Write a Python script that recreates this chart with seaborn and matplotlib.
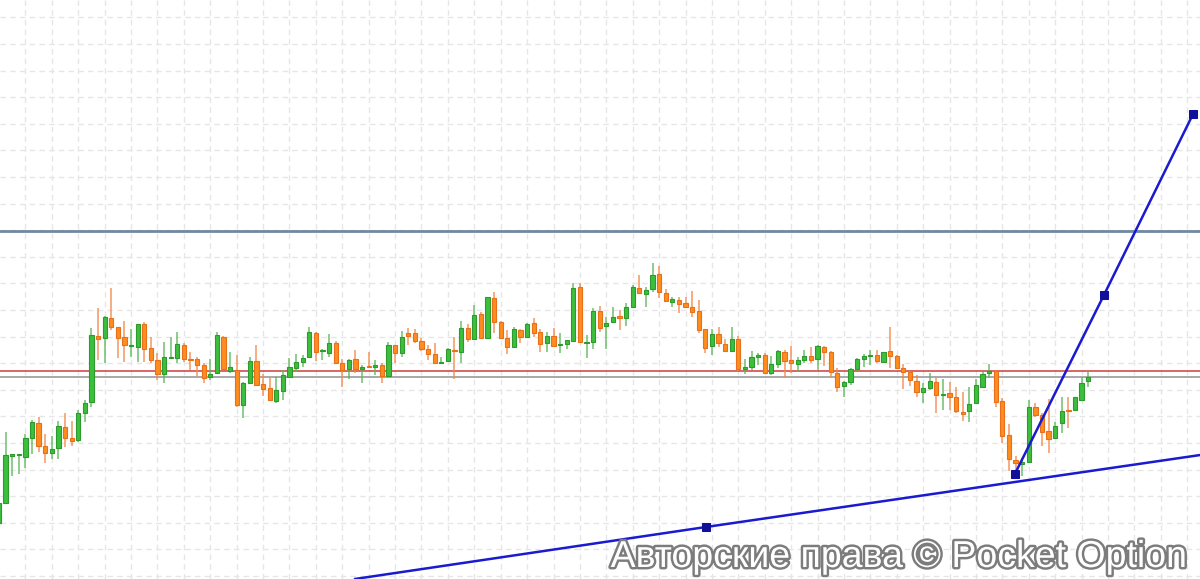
import numpy as np
import pandas as pd
import seaborn as sns
import matplotlib
matplotlib.use("Agg")
import matplotlib.pyplot as plt
import matplotlib.patheffects as pe

# candle data (price in chart points)
opens = [77, 97, 144, 145, 143, 162, 177, 154, 147, 152, 173, 162, 160, 187, 198, 264, 262, 282, 273, 263,
         254, 253, 276, 252, 240, 226, 242, 242, 255, 241, 241, 235, 223, 227, 263, 229, 230, 195, 217, 239,
         216, 212, 199, 209, 223, 232, 238, 243, 267, 249, 247, 257, 237, 231, 241, 231, 234, 233, 235, 224,
         255, 247, 267, 267, 259, 251, 246, 237, 239, 250, 248, 272, 261, 286, 262, 302, 278, 262, 253, 270,
         263, 277, 268, 257, 264, 255, 256, 259, 313, 257, 258, 289, 274, 278, 284, 282, 293, 312, 306, 311,
         326, 307, 298, 300, 297, 293, 289, 271, 254, 266, 256, 249, 261, 231, 233, 243, 245, 227, 236, 248,
         240, 236, 240, 244, 241, 253, 248, 227, 214, 218, 231, 241, 244, 245, 238, 249, 244, 232, 228, 219,
         208, 212, 218, 205, 207, 203, 188, 189, 197, 213, 227, 229, 199, 165, 140, 136, 138, 193, 185, 169,
         162, 177, 190, 190, 200, 219]
closes = [97, 145, 146, 146, 162, 178, 154, 147, 151, 174, 162, 159, 187, 197, 265, 261, 283, 273, 262, 255,
          255, 276, 251, 240, 226, 243, 243, 256, 241, 240, 235, 222, 226, 265, 231, 233, 195, 217, 239, 215,
          211, 200, 210, 225, 233, 238, 242, 268, 248, 249, 257, 237, 230, 240, 231, 233, 233, 235, 224, 255,
          247, 263, 264, 259, 251, 246, 237, 238, 251, 249, 272, 261, 285, 262, 303, 278, 262, 253, 271, 263,
          276, 267, 256, 264, 254, 256, 260, 312, 258, 258, 289, 272, 277, 283, 282, 293, 313, 307, 310, 325,
          308, 299, 301, 296, 293, 288, 270, 252, 266, 257, 249, 261, 231, 233, 243, 245, 227, 236, 249, 239,
          237, 240, 244, 240, 254, 248, 228, 213, 218, 231, 241, 244, 245, 239, 248, 244, 232, 228, 220, 208,
          212, 219, 205, 206, 203, 189, 186, 196, 215, 226, 229, 198, 164, 141, 137, 138, 193, 185, 168, 161,
          174, 189, 189, 203, 217, 223]
highs = [100, 168, 146, 146, 166, 180, 183, 166, 164, 179, 187, 179, 190, 200, 272, 292, 284, 312, 273, 279,
         271, 276, 278, 263, 247, 258, 263, 268, 257, 248, 243, 237, 241, 268, 264, 248, 245, 218, 243, 255,
         226, 222, 223, 230, 242, 246, 245, 273, 268, 251, 266, 259, 241, 241, 250, 235, 248, 240, 237, 258,
         255, 269, 272, 271, 262, 255, 257, 243, 252, 263, 279, 276, 295, 288, 303, 308, 279, 270, 273, 271,
         277, 282, 271, 268, 272, 267, 260, 317, 317, 265, 292, 294, 283, 293, 290, 297, 315, 325, 313, 337,
         334, 311, 303, 303, 303, 309, 300, 271, 271, 273, 261, 273, 264, 241, 249, 247, 247, 244, 250, 250,
         254, 243, 250, 253, 255, 254, 249, 232, 219, 232, 242, 246, 250, 250, 248, 273, 245, 236, 229, 225,
         217, 227, 222, 221, 218, 213, 208, 213, 221, 228, 236, 230, 202, 176, 144, 142, 200, 197, 187, 201,
         178, 203, 203, 203, 223, 229]
lows = [75, 97, 124, 126, 132, 146, 148, 137, 141, 141, 153, 154, 158, 178, 193, 240, 237, 270, 242, 238,
        243, 238, 238, 237, 220, 217, 241, 237, 238, 230, 224, 217, 220, 226, 230, 227, 193, 182, 216, 214,
        204, 199, 197, 200, 222, 228, 233, 242, 239, 240, 243, 236, 213, 221, 227, 217, 233, 225, 217, 223,
        237, 243, 255, 257, 249, 240, 236, 236, 239, 221, 237, 258, 261, 261, 261, 267, 261, 246, 252, 257,
        262, 263, 248, 248, 253, 247, 251, 258, 257, 242, 251, 268, 251, 278, 270, 274, 292, 306, 293, 308,
        302, 299, 293, 287, 293, 283, 267, 247, 245, 253, 249, 249, 229, 226, 230, 235, 226, 225, 232, 223,
        227, 229, 237, 237, 230, 234, 223, 208, 203, 215, 229, 233, 235, 237, 237, 232, 231, 211, 214, 203,
        197, 210, 187, 190, 190, 187, 179, 178, 196, 213, 222, 193, 157, 129, 128, 124, 137, 183, 154, 147,
        161, 167, 172, 189, 200, 213]

# horizontal levels
resistance_level = 369
red_level = 229
gray_level = 223

# drawn trend lines (candle index, price)
support_x = [53.9, 107.1, 182.0]
support_y = [21, 73, 145]
support_marks = [1]
swing_x = [153.9, 167.4, 180.9]
swing_y = [126, 305, 486]

df = pd.DataFrame({"open": opens, "close": closes, "high": highs, "low": lows})
df["idx"] = np.arange(len(df))
df["up"] = df["close"] >= df["open"]

sns.set_style("white")
plt.rcParams["font.family"] = ["Liberation Sans", "DejaVu Sans"]

fig = plt.figure(figsize=(12, 5.79), dpi=100)
ax = fig.add_axes([0, 0, 1, 1])

green_fill, green_edge, green_wick = "#3cbf3c", "#2c9a2c", "#5cb85c"
orange_fill, orange_edge, orange_wick = "#ff8c1e", "#e8701a", "#f2894a"

# grid
ax.set_xticks(np.arange(4, 184, 4))
ax.set_yticks(np.arange(582.7, 20, -26.6))
ax.grid(True, color="#e6e6e6", linestyle=(0, (4, 3)), linewidth=1)
ax.tick_params(length=0, labelbottom=False, labelleft=False)
for s in ax.spines.values():
    s.set_visible(False)

# horizontal levels
ax.axhline(resistance_level, color="#7088a0", linewidth=2, zorder=2)
ax.axhline(red_level, color="#d03c3c", linewidth=1.1, zorder=2)
ax.axhline(gray_level, color="#9a9a9a", linewidth=1.2, zorder=2)

# wicks
for up, wick in [(True, green_wick), (False, orange_wick)]:
    d = df[df["up"] == up]
    ax.vlines(d["idx"], d["low"], d["high"], color=wick, linewidth=1.3, alpha=0.75, zorder=3)

# bodies
body_bottom = df[["open", "close"]].min(axis=1)
body_height = (df["close"] - df["open"]).abs().clip(lower=1.5)
for up, fill, edge in [(True, green_fill, green_edge), (False, orange_fill, orange_edge)]:
    m = df["up"] == up
    ax.bar(df["idx"][m], body_height[m], bottom=body_bottom[m], width=0.66,
           color=fill, edgecolor=edge, linewidth=0.8, zorder=4)

# trend lines
sns.lineplot(x=support_x, y=support_y, ax=ax, color="#1a1ad0", linewidth=1.8, zorder=5,
             marker="s", markersize=6, markevery=support_marks, markerfacecolor="#10109a",
             markeredgecolor="#10109a")
sns.lineplot(x=swing_x, y=swing_y, ax=ax, color="#1a1ad0", linewidth=1.8, zorder=5,
             marker="s", markersize=6, markerfacecolor="#10109a", markeredgecolor="#10109a",
             sort=False)

ax.set_xlim(0.14, 181.95)
ax.set_ylim(21, 600)

fig.text(899 / 1200, 1 - 567 / 579, "Авторские права © Pocket Option", ha="center", va="baseline",
         fontsize=27, color="white", zorder=10,
         path_effects=[pe.withStroke(linewidth=3.5, foreground="#7c7c7c")])

fig.savefig("out.png", dpi=100)
